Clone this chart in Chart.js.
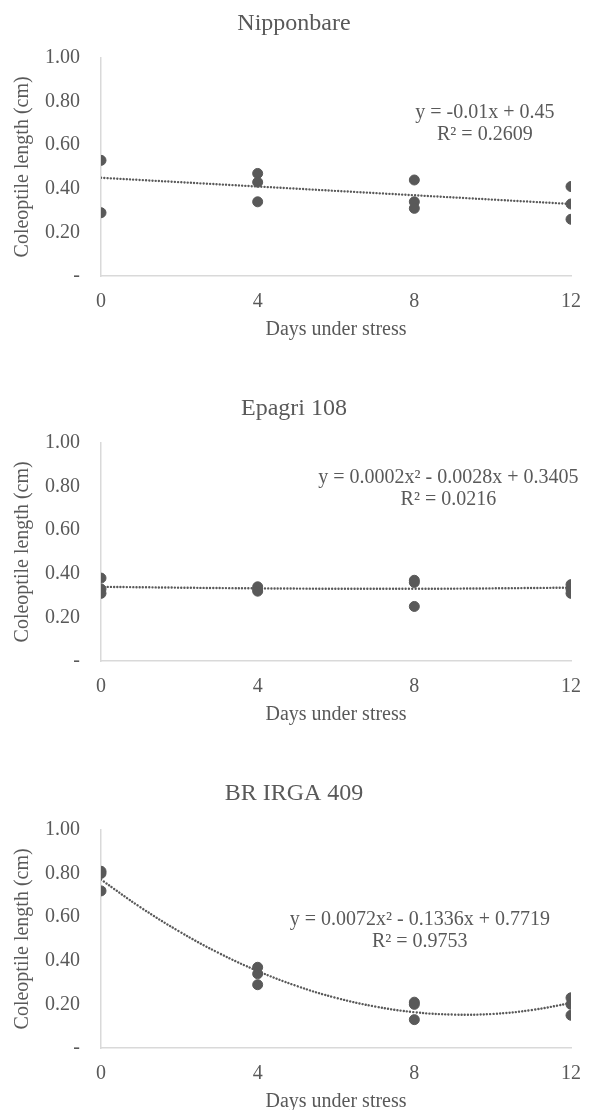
<!DOCTYPE html>
<html>
<head>
<meta charset="utf-8">
<script src="https://cdn.jsdelivr.net/npm/chart.js@4/dist/chart.umd.min.js"></script>
<style>
html,body{margin:0;padding:0;background:#ffffff;overflow:hidden;}
body{width:589px;height:1110px;position:relative;}
.panel{position:absolute;left:0;width:589px;height:344px;}
</style>
</head>
<body>

<div class="panel" style="top:0px;"><canvas id="chartNip"></canvas></div>
<div class="panel" style="top:385px;"><canvas id="chartEpa"></canvas></div>
<div class="panel" style="top:772px;"><canvas id="chartBr"></canvas></div>

<script>

/* ===========================
   DATA
=========================== */

const xTicks = [0, 4, 8, 12];

const yTicks = [0, 0.2, 0.4, 0.6, 0.8, 1.0];

// Nipponbare
const nipDays   = [0, 0, 4, 4, 4, 8, 8, 8, 12, 12, 12];
const nipLength = [0.53, 0.29, 0.47, 0.43, 0.34, 0.44, 0.34, 0.31, 0.41, 0.33, 0.26];
const nipTrendDays = [0, 12];
const nipTrend     = [0.45, 0.33];
const nipEquation  = ["y = -0.01x + 0.45", "R\u00B2 = 0.2609"];

// Epagri 108
const epaDays   = [0, 0, 0, 4, 4, 4, 8, 8, 8, 12, 12, 12];
const epaLength = [0.38, 0.33, 0.31, 0.34, 0.33, 0.32, 0.37, 0.36, 0.25, 0.35, 0.33, 0.31];
const epaTrendDays = [0, 4, 8, 12];
const epaTrend     = [0.340, 0.333, 0.331, 0.336];
const epaEquation  = ["y = 0.0002x\u00B2 - 0.0028x + 0.3405", "R\u00B2 = 0.0216"];

// BR IRGA 409
const brDays   = [0, 0, 0, 4, 4, 4, 8, 8, 8, 12, 12, 12];
const brLength = [0.81, 0.80, 0.72, 0.37, 0.34, 0.29, 0.21, 0.20, 0.13, 0.23, 0.20, 0.15];
const brTrendDays = [0, 1, 2, 3, 4, 5, 6, 7, 8, 9, 10, 11, 12];
const brTrend     = [0.772, 0.646, 0.534, 0.436, 0.353, 0.284, 0.230, 0.190, 0.164, 0.153, 0.156, 0.174, 0.206];
const brEquation  = ["y = 0.0072x\u00B2 - 0.1336x + 0.7719", "R\u00B2 = 0.9753"];

/* ===========================
   STYLE
=========================== */

const INK  = "#595959";
const AXIS = "#d9d9d9";
const FONT = "'Liberation Serif', 'Times New Roman', serif";

/* ===========================
   EQUATION LABEL PLUGIN
=========================== */

const equationPlugin = {

    id:"equationLabel",

    afterDatasetsDraw(chart, args, opts){

        const ctx = chart.ctx;
        const x = chart.scales.x.getPixelForValue(opts.atX);
        const y = chart.scales.y.getPixelForValue(opts.atY);

        ctx.save();
        ctx.fillStyle = INK;
        ctx.font = "20px " + FONT;
        ctx.textAlign = "center";
        ctx.textBaseline = "middle";

        opts.lines.forEach((line, i)=>{
            ctx.fillText(line, x, y + i * 22);
        });

        ctx.restore();

    }

};

/* ===========================
   BUILD CHART
=========================== */

function toPoints(xs, ys){

    return xs.map((x, i)=>({ x:x, y:ys[i] }));

}

function buildChart(id, title, days, lengths, trendDays, trend, equation, eqAt, titlePad){

    return new Chart(

        document.getElementById(id),

        {

            type:"scatter",

            data:{

                datasets:[

                    {
                        type:"line",
                        data:toPoints(trendDays, trend),
                        borderColor:INK,
                        borderWidth:2.4,
                        borderDash:[0.01, 3.2],
                        borderCapStyle:"round",
                        pointRadius:0,
                        tension:0.4,
                        fill:false,
                        order:1
                    },

                    {
                        data:toPoints(days, lengths),
                        backgroundColor:INK,
                        borderColor:INK,
                        pointRadius:5,
                        pointHoverRadius:5,
                        order:2
                    }

                ]

            },

            options:{

                responsive:true,
                maintainAspectRatio:false,
                animation:false,
                events:[],

                layout:{
                    padding:{ left:17, right:18, top:0, bottom:0 }
                },

                plugins:{

                    legend:{ display:false },
                    tooltip:{ enabled:false },

                    title:{
                        display:true,
                        text:title,
                        color:INK,
                        font:{ family:FONT, size:24, weight:"normal" },
                        padding:titlePad
                    },

                    equationLabel:{
                        lines:equation,
                        atX:eqAt[0],
                        atY:eqAt[1]
                    }

                },

                scales:{

                    x:{
                        type:"linear",
                        min:0,
                        max:12,
                        afterBuildTicks:(axis)=>{
                            axis.ticks = xTicks.map(v=>({ value:v }));
                        },
                        afterFit:(axis)=>{
                            axis.paddingLeft = 0;
                            axis.paddingRight = 0;
                        },
                        grid:{ display:false, drawTicks:false },
                        border:{ display:true, color:AXIS, width:1.5 },
                        ticks:{
                            color:INK,
                            padding:14,
                            font:{ family:FONT, size:20 }
                        },
                        title:{
                            display:true,
                            text:"Days under stress",
                            color:INK,
                            padding:{ top:-10, bottom:2 },
                            font:{ family:FONT, size:20 }
                        }
                    },

                    y:{
                        type:"linear",
                        min:0,
                        max:1,
                        afterBuildTicks:(axis)=>{
                            axis.ticks = yTicks.map(v=>({ value:v }));
                        },
                        afterFit:(axis)=>{
                            axis.width = 84;
                        },
                        grid:{ display:false, drawTicks:false },
                        border:{ display:true, color:AXIS, width:1.5 },
                        ticks:{
                            color:INK,
                            padding:21,
                            font:{ family:FONT, size:20 },
                            callback:(v)=> v === 0 ? "-" : v.toFixed(2)
                        },
                        title:{
                            display:true,
                            text:"Coleoptile length (cm)",
                            color:INK,
                            padding:{ top:-6, bottom:0 },
                            font:{ family:FONT, size:20 }
                        }
                    }

                }

            },

            plugins:[equationPlugin]

        }

    );

}

/* ===========================
   DRAW
=========================== */

buildChart("chartNip", "Nipponbare", nipDays, nipLength, nipTrendDays, nipTrend, nipEquation, [9.8, 0.75], { top:9, bottom:20 });

buildChart("chartEpa", "Epagri 108", epaDays, epaLength, epaTrendDays, epaTrend, epaEquation, [8.87, 0.84], { top:9, bottom:20 });

buildChart("chartBr", "BR IRGA 409", brDays, brLength, brTrendDays, brTrend, brEquation, [8.14, 0.59], { top:7, bottom:22 });

</script>
</body>
</html>
